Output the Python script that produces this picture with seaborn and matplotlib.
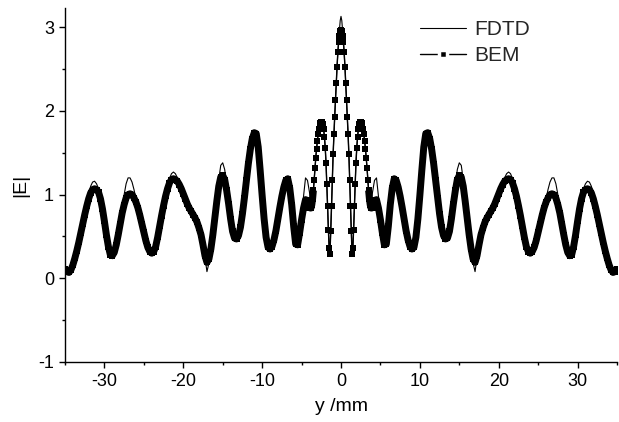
import numpy as np
import pandas as pd
import matplotlib
matplotlib.use("Agg")
import matplotlib.pyplot as plt
from matplotlib.ticker import MultipleLocator
import seaborn as sns

# ---- data (right half, x >= 0; the chart is symmetric about y = 0) ----
# sample positions: 0.0 .. 4.0 step 0.1, then 4.25 .. 35 step 0.25
x_inner = np.round(np.arange(0.0, 4.0001, 0.1), 2)
x_outer = np.round(np.arange(4.25, 35.0001, 0.25), 2)

bem_inner = [2.97, 2.95, 2.90, 2.82, 2.70, 2.53, 2.33, 2.13, 1.93, 1.72,
             1.48, 1.18, 0.86, 0.56, 0.29, 0.36, 0.58, 0.86, 1.13, 1.38,
             1.56, 1.69, 1.78, 1.84, 1.87, 1.87, 1.86, 1.83, 1.78, 1.72,
             1.64, 1.55, 1.44, 1.32, 1.18, 1.05, 0.95, 0.88, 0.84, 0.84,
             0.86]
bem_outer = [0.93, 0.94, 0.84, 0.70,
             0.54, 0.40, 0.41, 0.62,
             0.88, 1.08, 1.19, 1.17,
             1.09, 0.98, 0.85, 0.71,
             0.57, 0.46, 0.38, 0.35,
             0.37, 0.49, 0.71, 0.99,
             1.29, 1.57, 1.73, 1.74,
             1.67, 1.54, 1.37, 1.17,
             0.96, 0.77, 0.61, 0.51,
             0.47, 0.48, 0.56, 0.71,
             0.89, 1.05, 1.18, 1.23,
             1.21, 1.10, 0.92, 0.72,
             0.52, 0.35, 0.23, 0.19,
             0.27, 0.40, 0.52, 0.60,
             0.67, 0.72, 0.76, 0.80,
             0.84, 0.89, 0.95, 1.01,
             1.07, 1.12, 1.16, 1.18,
             1.19, 1.18, 1.14, 1.07,
             0.98, 0.87, 0.75, 0.62,
             0.49, 0.38, 0.32, 0.30,
             0.32, 0.37, 0.45, 0.55,
             0.65, 0.75, 0.84, 0.91,
             0.96, 1.00, 1.01, 1.00,
             0.96, 0.88, 0.78, 0.65,
             0.52, 0.40, 0.31, 0.27,
             0.28, 0.38, 0.52, 0.68,
             0.83, 0.95, 1.03, 1.06,
             1.07, 1.06, 1.02, 0.95,
             0.86, 0.76, 0.65, 0.54,
             0.43, 0.33, 0.24, 0.16,
             0.10, 0.07, 0.08, 0.11]

fdtd_inner = [3.13, 3.08, 2.97, 2.85, 2.70, 2.53, 2.33, 2.13, 1.93, 1.72,
              1.48, 1.18, 0.86, 0.56, 0.28, 0.36, 0.58, 0.86, 1.13, 1.38,
              1.56, 1.69, 1.78, 1.84, 1.87, 1.88, 1.86, 1.83, 1.78, 1.72,
              1.64, 1.55, 1.44, 1.32, 1.18, 1.05, 0.95, 0.90, 0.91, 0.96,
              1.03]
fdtd_outer = [1.17, 1.20, 0.98, 0.72,
              0.54, 0.40, 0.41, 0.62,
              0.88, 1.08, 1.20, 1.17,
              1.09, 0.98, 0.85, 0.71,
              0.57, 0.46, 0.38, 0.34,
              0.37, 0.49, 0.71, 0.99,
              1.29, 1.58, 1.75, 1.75,
              1.67, 1.54, 1.37, 1.17,
              0.96, 0.77, 0.61, 0.51,
              0.46, 0.48, 0.56, 0.71,
              0.91, 1.12, 1.30, 1.38,
              1.35, 1.18, 0.95, 0.72,
              0.50, 0.32, 0.18, 0.08,
              0.25, 0.40, 0.52, 0.60,
              0.67, 0.72, 0.76, 0.80,
              0.84, 0.89, 0.95, 1.01,
              1.08, 1.15, 1.20, 1.25,
              1.27, 1.25, 1.19, 1.09,
              0.98, 0.87, 0.75, 0.62,
              0.49, 0.38, 0.31, 0.28,
              0.31, 0.37, 0.45, 0.55,
              0.65, 0.76, 0.86, 0.95,
              1.06, 1.15, 1.20, 1.20,
              1.13, 1.00, 0.83, 0.67,
              0.52, 0.40, 0.30, 0.26,
              0.28, 0.38, 0.52, 0.68,
              0.83, 0.97, 1.07, 1.13,
              1.16, 1.15, 1.10, 1.00,
              0.89, 0.77, 0.65, 0.54,
              0.43, 0.33, 0.24, 0.16,
              0.09, 0.06, 0.08, 0.11]

x_ticks = [-30, -20, -10, 0, 10, 20, 30]
y_ticks = [-1, 0, 1, 2, 3]

# ---- assemble full series (mirror the read right half) ----
x_right = np.concatenate([x_inner, x_outer])
bem_right = np.array(bem_inner + bem_outer)
fdtd_right = np.array(fdtd_inner + fdtd_outer)
x_full = np.concatenate([-x_right[:0:-1], x_right])
bem_full = np.concatenate([bem_right[:0:-1], bem_right])
fdtd_full = np.concatenate([fdtd_right[:0:-1], fdtd_right])

df_fdtd = pd.DataFrame({"y": x_full, "E": fdtd_full})
df_bem = pd.DataFrame({"y": x_full, "E": bem_full})
# outer parts where the dense BEM squares merge into a solid band
df_bem_left = df_bem[df_bem["y"] <= -3.5]
df_bem_right = df_bem[df_bem["y"] >= 3.5]

# ---- plot ----
sns.set_style("ticks")
plt.rcParams["font.family"] = ["Liberation Sans", "DejaVu Sans"]
plt.rcParams["axes.unicode_minus"] = False

fig = plt.figure(figsize=(6.19, 4.22), dpi=100)
ax = fig.add_axes([65 / 619, 60 / 422, 552 / 619, 354 / 422])

sns.lineplot(data=df_fdtd, x="y", y="E", ax=ax, color="black", linewidth=0.8,
             estimator=None, sort=False, label="FDTD")
for part in (df_bem_left, df_bem_right):
    sns.lineplot(data=part, x="y", y="E", ax=ax, color="black", linewidth=5.0,
                 estimator=None, sort=False, legend=False,
                 solid_capstyle="butt")
sns.lineplot(data=df_bem, x="y", y="E", ax=ax, color="black", linewidth=1.0,
             marker="s", markersize=4.8, markeredgewidth=0, estimator=None,
             sort=False, label="BEM")

ax.set_xlim(-35, 35)
ax.set_ylim(-1, 3.23)
ax.set_xticks(x_ticks)
ax.set_yticks(y_ticks)
ax.xaxis.set_minor_locator(MultipleLocator(5))
ax.yaxis.set_minor_locator(MultipleLocator(0.5))
ax.tick_params(which="major", direction="out", length=4.5, width=1,
               labelsize=13, color="black", labelcolor="black")
ax.tick_params(which="minor", direction="out", length=2.5, width=1, color="black")
for s in ["top", "right"]:
    ax.spines[s].set_visible(False)
for s in ["left", "bottom"]:
    ax.spines[s].set_linewidth(1)
    ax.spines[s].set_color("black")

ax.set_xlabel("y /mm", fontsize=14, color="black", labelpad=6)
ax.set_ylabel("|E|", fontsize=14, color="black", labelpad=6)

handles, labels = ax.get_legend_handles_labels()
leg = ax.legend(handles, labels, loc="upper left",
                bbox_to_anchor=(420 / 619, 1 - 20 / 422),
                bbox_transform=fig.transFigure, frameon=False, fontsize=15,
                handlelength=2.2, handletextpad=0.4, labelspacing=0.33,
                borderpad=0, borderaxespad=0, numpoints=1)
for h in leg.legend_handles:
    if h.get_marker() == "s":
        h.set_markeredgecolor("white")
        h.set_markeredgewidth(2.5)
        h.set_markersize(5.5)

fig.savefig("out.png", dpi=100)
